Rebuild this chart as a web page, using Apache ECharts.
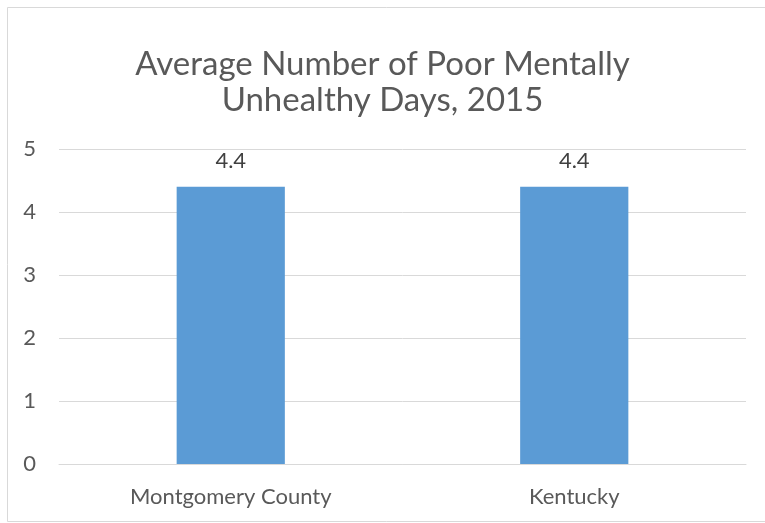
<!DOCTYPE html>
<html><head><meta charset="utf-8">
<script src="https://cdn.jsdelivr.net/npm/echarts@6/dist/echarts.min.js"></script>
<style>html,body{margin:0;padding:0;background:#fff}#c{width:765px;height:523px}</style>
</head><body><div id="c"></div>
<script>
const categories = ["Montgomery County", "Kentucky"];
const values = [4.4, 4.4];
const titleText = "Average Number of Poor Mentally\nUnhealthy Days, 2015";
const yMin = 0, yMax = 5, yInterval = 1;

const chart = echarts.init(document.getElementById('c'), null, {renderer: 'canvas'});
const FONT = 'Lato';
chart.setOption({
  animation: false,
  backgroundColor: '#fff',
  graphic: [{type: 'rect', left: 5, top: 5, shape: {width: 770, height: 514}, style: {fill: 'none', stroke: '#d9d9d9', lineWidth: 1}, silent: true}],
  title: {
    text: titleText, left: 'center', top: 41,
    textStyle: {fontFamily: FONT, fontSize: 33, fontWeight: 'normal', color: '#595959', lineHeight: 36}
  },
  grid: {left: 59, right: 19, top: 149, bottom: 59, containLabel: false},
  xAxis: {
    type: 'category', data: categories,
    axisLine: {lineStyle: {color: '#d9d9d9', width: 1}}, axisTick: {show: false},
    axisLabel: {fontFamily: FONT, fontSize: 22, color: '#595959', margin: 22}
  },
  yAxis: {
    type: 'value', min: yMin, max: yMax, interval: yInterval,
    axisLine: {show: false}, axisTick: {show: false},
    splitLine: {lineStyle: {color: '#d9d9d9', width: 1}},
    axisLabel: {fontFamily: FONT, fontSize: 22, color: '#595959', margin: 23}
  },
  series: [{
    type: 'bar', data: values, barWidth: '31.5%',
    itemStyle: {color: '#5B9BD5'},
    label: {show: true, position: 'top', distance: 15, fontFamily: FONT, fontSize: 22, color: '#404040', formatter: p => p.value.toFixed(1)}
  }]
});
</script></body></html>
